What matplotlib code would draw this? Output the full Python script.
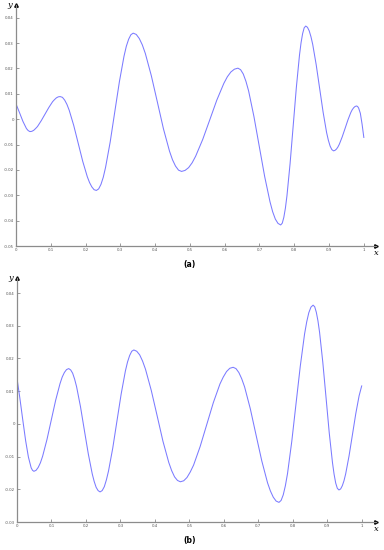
import numpy as np
import matplotlib
matplotlib.use("Agg")
from matplotlib import pyplot as plt

# values (x in [0, 1])
x_a = [0.0, 0.01, 0.02, 0.03, 0.035,
       0.040, 0.0454, 0.0509, 0.0563, 0.0618, 0.0726, 0.0835, 0.0944, 0.1053, 0.1107, 0.1161, 0.1216,
       0.127, 0.1335, 0.140, 0.1465, 0.153, 0.166, 0.179, 0.192, 0.205, 0.2115, 0.218, 0.2245,
       0.231, 0.2376, 0.2443, 0.2509, 0.2575, 0.2708, 0.284, 0.2973, 0.3105, 0.3171, 0.3238, 0.3304,
       0.337, 0.3457, 0.3544, 0.3631, 0.3718, 0.3891, 0.4065, 0.4239, 0.4413, 0.4499, 0.4586, 0.4673,
       0.476, 0.4861, 0.4963, 0.5064, 0.5165, 0.5368, 0.557, 0.5773, 0.5975, 0.6076, 0.6178, 0.6279,
       0.638, 0.6457, 0.6534, 0.6611, 0.6688, 0.6841, 0.6995, 0.7149, 0.7303, 0.7379, 0.7456, 0.7533,
       0.761, 0.7655, 0.770, 0.7745, 0.779, 0.788, 0.797, 0.806, 0.815, 0.8195, 0.824, 0.8285,
       0.833, 0.838, 0.843, 0.848, 0.853, 0.863, 0.873, 0.883, 0.893, 0.898, 0.903, 0.908,
       0.913, 0.9171, 0.9213, 0.9254, 0.9295, 0.9378, 0.946, 0.9543, 0.9625, 0.9666, 0.9708, 0.9749,
       0.979, 0.982, 0.985, 0.990, 0.995, 1.0]
y_a = [0.0060, 0.0026, -0.0009, -0.0037, -0.0045,
       -0.0049, -0.0048, -0.0044, -0.0037, -0.0029, -0.0006, 0.0020, 0.0046, 0.0069, 0.0077, 0.0084, 0.0088,
       0.0089, 0.0086, 0.0075, 0.0058, 0.0035, -0.0025, -0.0096, -0.0167, -0.0227, -0.0250, -0.0267, -0.0278,
       -0.0281, -0.0275, -0.0257, -0.0229, -0.0190, -0.0090, 0.0029, 0.0148, 0.0248, 0.0287, 0.0315, 0.0333,
       0.0339, 0.0334, 0.0318, 0.0293, 0.0259, 0.0171, 0.0067, -0.0038, -0.0126, -0.0160, -0.0185, -0.0201,
       -0.0206, -0.0202, -0.0191, -0.0172, -0.0146, -0.0080, -0.0003, 0.0075, 0.0141, 0.0167, 0.0186, 0.0197,
       0.0201, 0.0195, 0.0178, 0.0149, 0.0111, 0.0010, -0.0108, -0.0226, -0.0326, -0.0365, -0.0394, -0.0411,
       -0.0417, -0.0410, -0.0387, -0.0351, -0.0302, -0.0175, -0.0025, 0.0125, 0.0252, 0.0301, 0.0337, 0.0360,
       0.0367, 0.0362, 0.0348, 0.0325, 0.0295, 0.0215, 0.0121, 0.0027, -0.0053, -0.0083, -0.0106, -0.0120,
       -0.0125, -0.0123, -0.0118, -0.0110, -0.0099, -0.0070, -0.0037, -0.0003, 0.0026, 0.0037, 0.0045, 0.0050,
       0.0052, 0.0050, 0.0044, 0.0023, -0.0020, -0.0072]

x_b = [0.0, 0.008, 0.0165, 0.025, 0.033, 0.041, 0.045,
       0.049, 0.0553, 0.0616, 0.0679, 0.0743, 0.0869, 0.0995, 0.1121, 0.1248, 0.1311, 0.1374, 0.1437,
       0.150, 0.1557, 0.1614, 0.1671, 0.1728, 0.1841, 0.1955, 0.2069, 0.2183, 0.2239, 0.2296, 0.2353,
       0.241, 0.2471, 0.2533, 0.2594, 0.2655, 0.2778, 0.290, 0.3023, 0.3145, 0.3206, 0.3268, 0.3329,
       0.339, 0.3474, 0.3559, 0.3643, 0.3728, 0.3896, 0.4065, 0.4234, 0.4403, 0.4487, 0.4571, 0.4656,
       0.474, 0.4836, 0.4931, 0.5027, 0.5123, 0.5314, 0.5505, 0.5696, 0.5888, 0.5983, 0.6079, 0.6174,
       0.627, 0.6353, 0.6436, 0.6519, 0.6603, 0.6769, 0.6935, 0.7101, 0.7268, 0.7351, 0.7434, 0.7517,
       0.760, 0.7662, 0.7724, 0.7786, 0.7848, 0.7971, 0.8095, 0.8219, 0.8343, 0.8405, 0.8466, 0.8528,
       0.859, 0.8637, 0.8684, 0.8731, 0.8778, 0.8871, 0.8965, 0.9059, 0.9153, 0.9199, 0.9246, 0.9293,
       0.934, 0.9389, 0.9438, 0.9486, 0.9535, 0.9633, 0.973, 0.9828, 0.9925, 1.0]
y_b = [0.0139, 0.0081, 0.0014, -0.0051, -0.0101, -0.0134, -0.0142,
       -0.0145, -0.0142, -0.0133, -0.0119, -0.0099, -0.0048, 0.0012, 0.0072, 0.0123, 0.0143, 0.0157, 0.0166,
       0.0169, 0.0165, 0.0155, 0.0137, 0.0114, 0.0053, -0.0020, -0.0092, -0.0153, -0.0176, -0.0194, -0.0204,
       -0.0208, -0.0204, -0.0192, -0.0171, -0.0144, -0.0074, 0.0009, 0.0092, 0.0162, 0.0189, 0.0209, 0.0222,
       0.0226, 0.0222, 0.0211, 0.0192, 0.0167, 0.0102, 0.0025, -0.0053, -0.0118, -0.0143, -0.0162, -0.0173,
       -0.0177, -0.0174, -0.0164, -0.0147, -0.0126, -0.0069, -0.0002, 0.0065, 0.0122, 0.0143, 0.0160, 0.0170,
       0.0173, 0.0169, 0.0157, 0.0138, 0.0113, 0.0046, -0.0034, -0.0113, -0.0180, -0.0205, -0.0224, -0.0236,
       -0.0240, -0.0234, -0.0217, -0.0189, -0.0152, -0.0054, 0.0062, 0.0177, 0.0275, 0.0312, 0.0340, 0.0357,
       0.0363, 0.0358, 0.0341, 0.0315, 0.0280, 0.0189, 0.0081, -0.0028, -0.0119, -0.0154, -0.0181, -0.0197,
       -0.0202, -0.0199, -0.0189, -0.0174, -0.0153, -0.0098, -0.0034, 0.0031, 0.0086, 0.0116]

x_ticks = [0, 0.1, 0.2, 0.3, 0.4, 0.5, 0.6, 0.7, 0.8, 0.9, 1]
x_labels = ["0", "0.1", "0.2", "0.3", "0.4", "0.5", "0.6", "0.7", "0.8", "0.9", "1"]
yticks_a = [0.04, 0.03, 0.02, 0.01, 0, -0.01, -0.02, -0.03, -0.04, -0.05]
ylabels_a = ["0.04", "0.03", "0.02", "0.01", "0", "-0.01", "-0.02", "-0.03", "-0.04", "-0.05"]
yticks_b = [0.04, 0.03, 0.02, 0.01, 0, -0.01, -0.02, -0.03]
ylabels_b = ["0.04", "0.03", "0.02", "0.01", "0", "-0.01", "-0.02", "-0.03"]

W, H = 384, 550
fig = plt.figure(figsize=(W / 100, H / 100), dpi=100)
fig.patch.set_facecolor("white")

line_color = "#7b7bff"
spine_color = "#8c8c8c"


def style_axes(ax, yticks, ylabels):
    for s in ["top", "right"]:
        ax.spines[s].set_visible(False)
    for s in ["left", "bottom"]:
        ax.spines[s].set_color(spine_color)
        ax.spines[s].set_linewidth(0.9)
    ax.set_xticks(x_ticks)
    ax.set_xticklabels(x_labels)
    ax.set_yticks(yticks)
    ax.set_yticklabels(ylabels)
    ax.tick_params(direction="in", length=2.5, width=0.6, color=spine_color,
                   labelsize=2.8, labelcolor="#555555", pad=1.5)
    # arrow heads and axis names
    ax.plot(1, 0, marker=">", color="black", markersize=2.5,
            transform=ax.transAxes, clip_on=False)
    ax.plot(0, 1, marker="^", color="black", markersize=2.5,
            transform=ax.transAxes, clip_on=False)
    ax.text(1.0, -0.012, "x", transform=ax.transAxes, ha="center", va="top",
            fontsize=6, style="italic", family="DejaVu Serif")
    ax.text(-0.012, 1.0, "y", transform=ax.transAxes, ha="right", va="center",
            fontsize=6, style="italic", family="DejaVu Serif")


# panel (a)
ax1 = fig.add_axes([16 / W, 1 - 246 / H, 360 / W, 241 / H])
ax1.plot(x_a, y_a, color=line_color, linewidth=0.75)
ax1.set_xlim(0, 1.035)
ax1.set_ylim(-0.05, 0.045)
style_axes(ax1, yticks_a, ylabels_a)
fig.text(190 / W, 1 - 265 / H, "(a)", ha="center", va="center",
         fontsize=5.5, fontweight="bold")

# panel (b)
ax2 = fig.add_axes([17 / W, 1 - 522 / H, 359 / W, 244 / H])
ax2.plot(x_b, y_b, color=line_color, linewidth=0.75)
ax2.set_xlim(0, 1.0415)
ax2.set_ylim(-0.03, 0.0446)
style_axes(ax2, yticks_b, ylabels_b)
fig.text(190 / W, 1 - 541 / H, "(b)", ha="center", va="center",
         fontsize=5.5, fontweight="bold")

fig.savefig("out.png", dpi=100)
